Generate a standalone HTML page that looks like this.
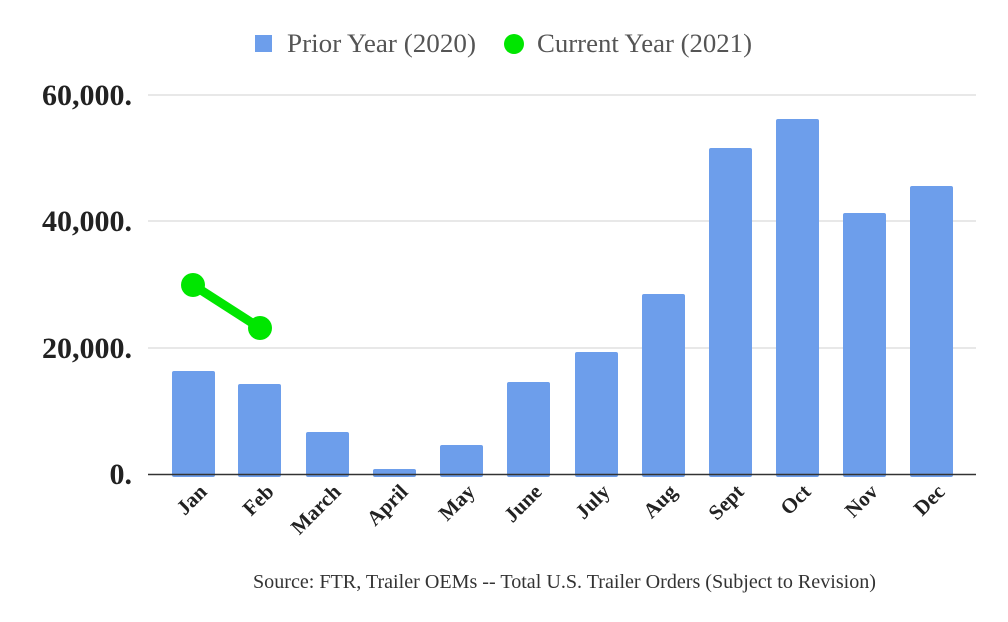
<!DOCTYPE html>
<html><head><style>body{margin:0;background:#fff}svg{display:block}</style></head><body>
<svg width="1008" height="622" xmlns="http://www.w3.org/2000/svg" font-family="Liberation Serif, serif">
<rect width="1008" height="622" fill="#fff"/>
<g stroke="#d0d0d0" stroke-width="1">
<line x1="148" y1="95" x2="976" y2="95"/><line x1="148" y1="221" x2="976" y2="221"/><line x1="148" y1="348" x2="976" y2="348"/>
</g>
<g font-size="30" font-weight="bold" fill="#222" text-anchor="end">
<text x="132" y="105">60,000.</text><text x="132" y="231">40,000.</text><text x="132" y="358">20,000.</text><text x="132" y="484">0.</text>
</g>
<g fill="#6d9eeb">
<rect x="172" y="371" width="43" height="106" rx="2"/>
<rect x="238" y="384" width="43" height="93" rx="2"/>
<rect x="306" y="432" width="43" height="45" rx="2"/>
<rect x="373" y="469" width="43" height="8" rx="2"/>
<rect x="440" y="445" width="43" height="32" rx="2"/>
<rect x="507" y="382" width="43" height="95" rx="2"/>
<rect x="575" y="352" width="43" height="125" rx="2"/>
<rect x="642" y="294" width="43" height="183" rx="2"/>
<rect x="709" y="148" width="43" height="329" rx="2"/>
<rect x="776" y="119" width="43" height="358" rx="2"/>
<rect x="843" y="213" width="43" height="264" rx="2"/>
<rect x="910" y="186" width="43" height="291" rx="2"/>
</g>
<line x1="148" y1="474.5" x2="976" y2="474.5" stroke="#333" stroke-width="1.5"/>
<line x1="193" y1="285" x2="260" y2="328" stroke="#00e600" stroke-width="9"/>
<circle cx="193" cy="285" r="12" fill="#00e600"/><circle cx="260" cy="328" r="12" fill="#00e600"/>
<g font-size="21" font-weight="bold" fill="#222" text-anchor="end">
<text transform="translate(208,493) rotate(-45)">Jan</text>
<text transform="translate(275,493) rotate(-45)">Feb</text>
<text transform="translate(342,493) rotate(-45)">March</text>
<text transform="translate(409,493) rotate(-45)">April</text>
<text transform="translate(476,493) rotate(-45)">May</text>
<text transform="translate(543,493) rotate(-45)">June</text>
<text transform="translate(611,493) rotate(-45)">July</text>
<text transform="translate(678,493) rotate(-45)">Aug</text>
<text transform="translate(745,493) rotate(-45)">Sept</text>
<text transform="translate(812,493) rotate(-45)">Oct</text>
<text transform="translate(879,493) rotate(-45)">Nov</text>
<text transform="translate(946,493) rotate(-45)">Dec</text>
</g>
<rect x="255" y="35" width="17" height="17" fill="#6d9eeb"/>
<text x="287" y="52" font-size="26" fill="#555" textLength="189" lengthAdjust="spacingAndGlyphs">Prior Year (2020)</text>
<circle cx="514" cy="44" r="10" fill="#00e600"/>
<text x="537" y="52" font-size="26" fill="#555" textLength="215" lengthAdjust="spacingAndGlyphs">Current Year (2021)</text>
<text x="253" y="588" font-size="20" fill="#333" textLength="623" lengthAdjust="spacingAndGlyphs">Source: FTR, Trailer OEMs -- Total U.S. Trailer Orders (Subject to Revision)</text>
</svg>
</body></html>
